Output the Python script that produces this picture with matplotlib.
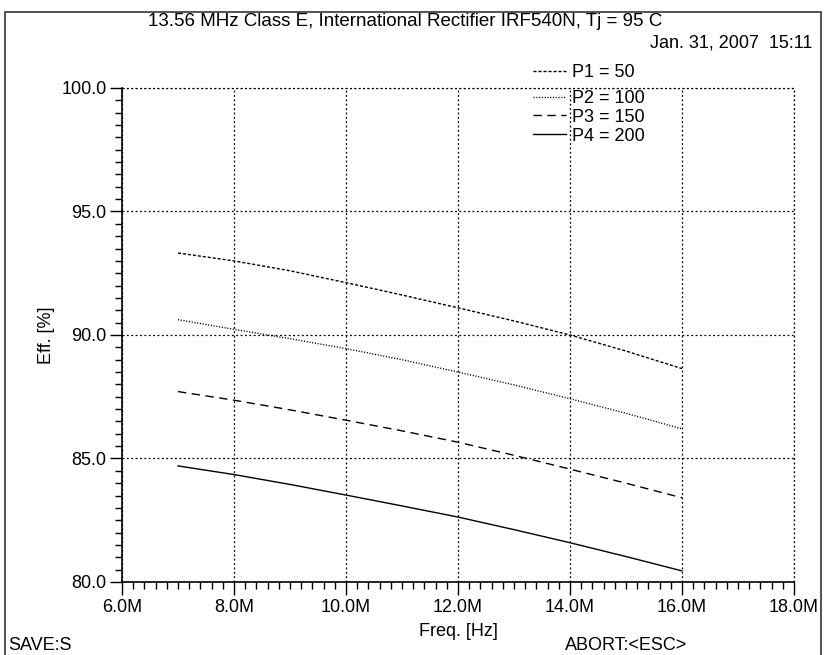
import matplotlib
matplotlib.use("Agg")
import matplotlib.pyplot as plt
from matplotlib.ticker import MultipleLocator, FuncFormatter
from matplotlib.patches import Rectangle

plt.rcParams['font.family'] = ['Liberation Sans', 'DejaVu Sans']

# Frequency sweep in MHz
freq_mhz = [7, 8, 9, 10, 11, 12, 13, 14, 15, 16]

# Drain efficiency [%] for each output power setting
eff_p1 = [93.32, 93.00, 92.60, 92.12, 91.62, 91.10, 90.57, 90.00, 89.35, 88.64]
eff_p2 = [90.62, 90.23, 89.85, 89.45, 89.00, 88.50, 87.98, 87.42, 86.83, 86.20]
eff_p3 = [87.71, 87.36, 86.97, 86.55, 86.12, 85.66, 85.13, 84.57, 84.00, 83.41]
eff_p4 = [84.70, 84.35, 83.95, 83.52, 83.08, 82.63, 82.12, 81.59, 81.03, 80.45]

series_labels = ["P1 = 50", "P2 = 100", "P3 = 150", "P4 = 200"]
series_values = [eff_p1, eff_p2, eff_p3, eff_p4]
series_styles = [(0, (2.2, 1.4)), (0, (0.8, 1.2)), (0, (6, 4)), "-"]

title_text = "13.56 MHz Class E, International Rectifier IRF540N, Tj = 95 C"
stamp_text = "Jan. 31, 2007  15:11"

FS = 13

fig = plt.figure(figsize=(8.24, 6.55), dpi=100)
W, H = 824, 655

# outer frame of the instrument screen
fig.patches.append(Rectangle((5 / W, -0.05), (816 / W), (1 - 12 / H) + 0.05,
                             transform=fig.transFigure, fill=False,
                             edgecolor="#444444", linewidth=1.3))

ax = fig.add_axes([122 / W, 1 - 582 / H, 672 / W, 494 / H])

x_hz = [f * 1e6 for f in freq_mhz]
lines = []
for vals, ls in zip(series_values, series_styles):
    ln, = ax.plot(x_hz, vals, color="black", linestyle=ls, linewidth=1.0)
    lines.append(ln)

ax.set_xlim(6e6, 18e6)
ax.set_ylim(80, 100)
ax.xaxis.set_major_locator(MultipleLocator(2e6))
ax.xaxis.set_minor_locator(MultipleLocator(0.2e6))
ax.yaxis.set_major_locator(MultipleLocator(5))
ax.yaxis.set_minor_locator(MultipleLocator(0.5))
ax.xaxis.set_major_formatter(FuncFormatter(lambda v, p: f"{v / 1e6:.1f}M"))
ax.yaxis.set_major_formatter(FuncFormatter(lambda v, p: f"{v:.1f}"))

ax.tick_params(which="major", direction="out", length=9, width=1.0,
               labelsize=FS, color="black")
ax.tick_params(axis="y", which="major", pad=2)
ax.tick_params(axis="x", which="major", pad=3)
ax.tick_params(which="minor", direction="out", length=5, width=1.0, color="black")

for s in ("top", "right"):
    ax.spines[s].set_visible(False)
for s in ("left", "bottom"):
    ax.spines[s].set_linewidth(1.2)

grid_ls = (0, (1.5, 2.0))
ax.grid(which="major", color="black", linestyle=grid_ls, linewidth=0.9)
# dotted grid lines at the far edges of the plot area
ax.axhline(100, color="black", linestyle=grid_ls, linewidth=0.9, clip_on=False)
ax.axvline(18e6, color="black", linestyle=grid_ls, linewidth=0.9, clip_on=False)

ax.set_xlabel("Freq. [Hz]", fontsize=FS, labelpad=5)
ax.set_ylabel("Eff. [%]", fontsize=FS, labelpad=5)

# key: first entry sits above the 100 % grid line, the rest below it
leg_kw = dict(loc="upper left", frameon=False, fontsize=FS, handlelength=1.85,
              handletextpad=0.3, labelspacing=0.1, borderpad=0.0,
              borderaxespad=0.0)
leg_top = fig.legend(lines[:1], series_labels[:1],
                     bbox_to_anchor=(533 / W, 1 - 64 / H), **leg_kw)
leg_bot = fig.legend(lines[1:], series_labels[1:],
                     bbox_to_anchor=(533 / W, 1 - 90 / H), **leg_kw)

fig.text(405 / W, 1 - 21 / H, title_text, ha="center", va="center", fontsize=13.5)
fig.text(812 / W, 1 - 43 / H, stamp_text, ha="right", va="center", fontsize=FS)
fig.text(8 / W, 1 - 645 / H, "SAVE:S", ha="left", va="center", fontsize=FS)
fig.text(565 / W, 1 - 645 / H, "ABORT:<ESC>", ha="left", va="center", fontsize=FS)

fig.savefig("out.png", dpi=100)
